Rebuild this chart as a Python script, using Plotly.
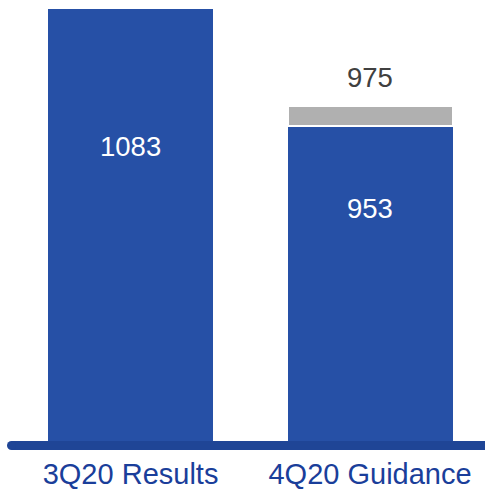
import plotly.graph_objects as go

categories = ["3Q20 Results", "4Q20 Guidance"]
base_values = [1083, 953]
upper_values = [None, 975]

BLUE = "#2650A6"
GRAY = "#B0B0B0"
AXIS_BLUE = "#1F4596"
LABEL_BLUE = "#1A3E9A"
FONT = "Liberation Sans, Arial"

W, H = 485, 492
PLOT_H = 441
x_pos = [0, 1]

fig = go.Figure()
fig.add_trace(go.Bar(x=x_pos, y=base_values, width=0.689,
                     marker=dict(color=BLUE, line=dict(width=0)),
                     hoverinfo="skip"))
inc = [0 if u is None else u - b for u, b in zip(upper_values, base_values)]
fig.add_trace(go.Bar(x=x_pos, y=inc, width=0.689,
                     marker=dict(color=GRAY, line=dict(width=2, color="white")),
                     hoverinfo="skip"))

# inner value labels (positions in data units)
inner_label_y = [929.9, 861.6]
for xi, v, ly in zip(x_pos, base_values, inner_label_y):
    fig.add_annotation(x=xi, y=ly, text=str(v), showarrow=False,
                       font=dict(color="white", size=27.5, family=FONT))
for xi, u in zip(x_pos, upper_values):
    if u is not None:
        fig.add_annotation(x=xi, y=u, text=str(u), showarrow=False, yanchor="middle",
                           yshift=29,
                           font=dict(color="#404040", size=27.5, family=FONT))

# baseline bar with rounded left end
fig.add_shape(type="rect", xref="paper", yref="paper",
              x0=11.5 / W, x1=1.0, y0=-9 / PLOT_H, y1=0,
              fillcolor=AXIS_BLUE, line=dict(width=0), layer="above")
fig.add_shape(type="circle", xref="paper", yref="paper",
              x0=7 / W, x1=16 / W, y0=-9 / PLOT_H, y1=0,
              fillcolor=AXIS_BLUE, line=dict(width=0), layer="above")

fig.update_layout(
    width=W, height=H,
    barmode="stack",
    showlegend=False,
    plot_bgcolor="white", paper_bgcolor="white",
    margin=dict(l=0, r=0, t=0, b=H - PLOT_H, autoexpand=False),
    xaxis=dict(range=[-0.545, 1.48], tickmode="array", tickvals=x_pos,
               ticktext=categories, showgrid=False, zeroline=False,
               showline=False, ticks="", ticklabelstandoff=13, automargin=False,
               tickfont=dict(color=LABEL_BLUE, size=29, family=FONT)),
    yaxis=dict(range=[606, 1091.8], visible=False, showgrid=False, zeroline=False),
)

fig.write_html("out.html",
               config={"displayModeBar": False, "staticPlot": True},
               post_script="document.body.style.margin='0';document.body.style.overflow='hidden';")
